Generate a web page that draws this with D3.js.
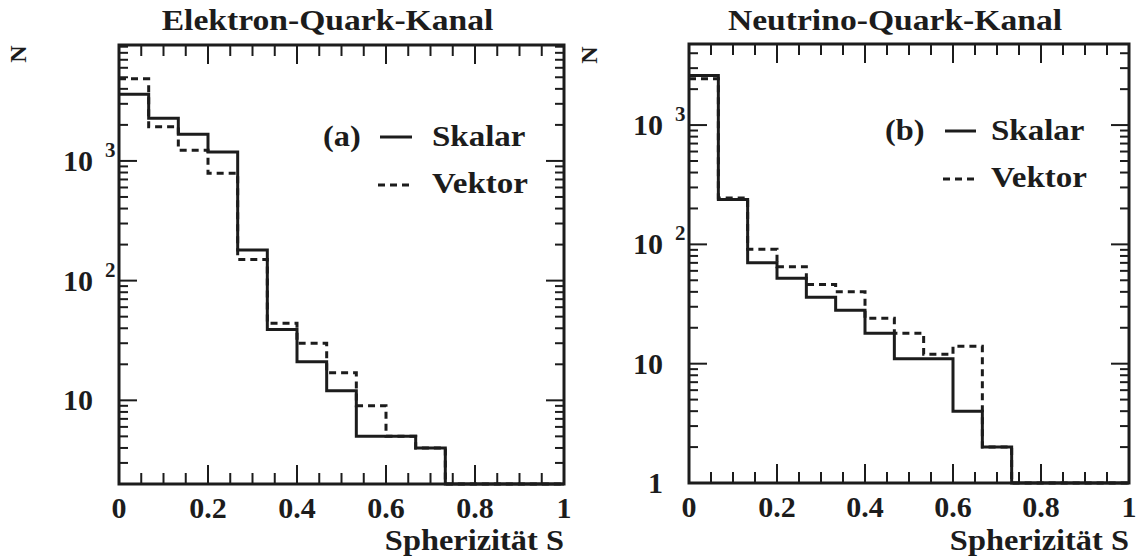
<!DOCTYPE html>
<html><head><meta charset="utf-8">
<script src="https://cdn.jsdelivr.net/npm/d3@7"></script>
<style>
body{margin:0;background:#fff}
text{font-family:"Liberation Serif","Tinos","Times New Roman","Nimbus Roman","DejaVu Serif",serif;font-weight:bold;fill:#1c1c1c}
</style>
</head><body>
<svg id="c" width="1139" height="560"></svg>
<script>
// ---------------- data ----------------
const binEdges = [0, 0.0667, 0.1333, 0.2, 0.2667, 0.3333, 0.4, 0.4667, 0.5333, 0.6, 0.6667, 0.7333, 0.8, 0.8667, 0.9333, 1];
const elektronSkalar = [3600, 2270, 1670, 1190, 180, 39, 21, 12, 5, 5, 4, 0, 0, 0, 0];
const elektronVektor = [4850, 1930, 1230, 790, 150, 44, 30, 17, 9, 5, 4, 0, 0, 0, 0];
const neutrinoSkalar = [2600, 238, 70, 52, 36, 28, 18, 11, 11, 4, 2, 0, 0, 0, 0];
const neutrinoVektor = [2450, 245, 91, 65, 46, 40, 24, 18, 12, 14, 2, 0, 0, 0, 0];
const xTickValues = [0, 0.2, 0.4, 0.6, 0.8, 1];
const xTickLabels = ["0", "0.2", "0.4", "0.6", "0.8", "1"];
const yDecadesA = [10, 100, 1000];
const yDecadesB = [1, 10, 100, 1000];
const yDomainA = [2, 9300];
const yDomainB = [1, 4780];
const panelTitles = ["Elektron-Quark-Kanal", "Neutrino-Quark-Kanal"];
const panelTags = ["(a)", "(b)"];
const seriesNames = ["Skalar", "Vektor"];
const xTitle = "Spherizität S";
const yTitle = "N";

// ---------------- layout ----------------
const ink = "#1c1c1c";
const FONT = "'Liberation Serif', Tinos, 'Times New Roman', 'DejaVu Serif', serif";
const panels = [
  {x0:119, x1:564, y0:45, y1:484, dom:yDomainA, dec:yDecadesA, s:elektronSkalar, v:elektronVektor,
   title:panelTitles[0], tag:panelTags[0], leg:{tag:204, l0:261, l1:293, tx:313, b1:101, b2:148}, nx:25.5, ny:54},
  {x0:689, x1:1129, y0:44, y1:483, dom:yDomainB, dec:yDecadesB, s:neutrinoSkalar, v:neutrinoVektor,
   title:panelTitles[1], tag:panelTags[1], leg:{tag:196, l0:256, l1:287, tx:302, b1:96, b2:143}, nx:597, ny:55}
];

const svg = d3.select("#c");
function txt(g){ return g.append("text").attr("font-family", FONT).attr("font-weight","bold").attr("fill", ink); }
function stretch(sel, k){
  sel.each(function(){
    const L = this.getComputedTextLength();
    d3.select(this).attr("textLength", L*k).attr("lengthAdjust","spacingAndGlyphs");
  });
}

panels.forEach(p => {
  const g = svg.append("g");
  const x = d3.scaleLinear().domain([0,1]).range([p.x0, p.x1]);
  const y = d3.scaleLog().domain(p.dom).range([p.y1, p.y0]);
  const yv = v => v > 0 ? y(v) : p.y1;

  // x ticks (bottom and top, inward)
  x.ticks(20).forEach(t => {
    const major = Math.abs(t*5 - Math.round(t*5)) < 1e-6;
    const L = major ? 19 : 11;
    g.append("line").attr("x1", x(t)).attr("x2", x(t)).attr("y1", p.y1).attr("y2", p.y1 - L)
      .attr("stroke", ink).attr("stroke-width", 2);
    g.append("line").attr("x1", x(t)).attr("x2", x(t)).attr("y1", p.y0).attr("y2", p.y0 + L)
      .attr("stroke", ink).attr("stroke-width", 2);
  });
  // y ticks (left and right, inward)
  y.ticks().forEach(t => {
    const lg = Math.log10(t);
    const major = Math.abs(lg - Math.round(lg)) < 1e-6;
    const L = major ? 18 : 9;
    g.append("line").attr("x1", p.x0).attr("x2", p.x0 + L).attr("y1", y(t)).attr("y2", y(t))
      .attr("stroke", ink).attr("stroke-width", 2);
    g.append("line").attr("x1", p.x1).attr("x2", p.x1 - L).attr("y1", y(t)).attr("y2", y(t))
      .attr("stroke", ink).attr("stroke-width", 2);
  });

  // histograms
  const line = d3.line().x(d => x(d[0])).y(d => yv(d[1]));
  const pts = vals => {
    const a = [];
    vals.forEach((v,i) => { a.push([binEdges[i], v]); a.push([binEdges[i+1], v]); });
    return a;
  };
  g.append("path").attr("d", line(pts(p.s))).attr("fill","none").attr("stroke", ink)
    .attr("stroke-width", 3).attr("stroke-linejoin","miter");
  g.append("path").attr("d", line(pts(p.v))).attr("fill","none").attr("stroke", ink)
    .attr("stroke-width", 3).attr("stroke-dasharray","7,5");

  // frame
  g.append("rect").attr("x", p.x0).attr("y", p.y0).attr("width", p.x1-p.x0).attr("height", p.y1-p.y0)
    .attr("fill","none").attr("stroke", ink).attr("stroke-width", 3);

  // x tick labels
  xTickValues.forEach((t,i) => {
    txt(g).attr("x", x(t)).attr("y", p.y1 + 34).attr("text-anchor","middle")
      .attr("font-size", 30).text(xTickLabels[i]);
  });
  // y tick labels
  p.dec.forEach(d => {
    const e = Math.round(Math.log10(d));
    const base = e <= 1 ? String(d) : "10";
    txt(g).attr("x", p.x0 - 26).attr("y", y(d) + 10).attr("text-anchor","end")
      .attr("font-size", 30).text(base);
    if (e > 1) {
      txt(g).attr("x", p.x0 - 14).attr("y", y(d) - 4).attr("text-anchor","start")
        .attr("font-size", 21).text(String(e));
    }
  });

  // titles
  stretch(txt(g).attr("x", (p.x0+p.x1)/2 - 14).attr("y", 30).attr("text-anchor","middle")
    .attr("font-size", 30).text(p.title), 1.12);
  stretch(txt(g).attr("x", p.x1).attr("y", 550).attr("text-anchor","end")
    .attr("font-size", 30).text(xTitle), 1.08);
  txt(g).attr("transform", `translate(${p.nx},${p.ny}) rotate(-90)`).attr("text-anchor","middle")
    .attr("font-size", 24).text(yTitle);

  // legend
  const L = p.leg;
  stretch(txt(g).attr("x", p.x0 + L.tag).attr("y", p.y0 + L.b1).attr("font-size", 30).text(p.tag), 1.08);
  g.append("line").attr("x1", p.x0 + L.l0).attr("x2", p.x0 + L.l1).attr("y1", p.y0 + L.b1 - 9).attr("y2", p.y0 + L.b1 - 9)
    .attr("stroke", ink).attr("stroke-width", 3);
  stretch(txt(g).attr("x", p.x0 + L.tx).attr("y", p.y0 + L.b1).attr("font-size", 30).text(seriesNames[0]), 1.1);
  g.append("line").attr("x1", p.x0 + L.l0 - 2).attr("x2", p.x0 + L.l1).attr("y1", p.y0 + L.b2 - 8).attr("y2", p.y0 + L.b2 - 8)
    .attr("stroke", ink).attr("stroke-width", 3).attr("stroke-dasharray","7,5");
  stretch(txt(g).attr("x", p.x0 + L.tx).attr("y", p.y0 + L.b2).attr("font-size", 30).text(seriesNames[1]), 1.1);
});
</script>
</body></html>
